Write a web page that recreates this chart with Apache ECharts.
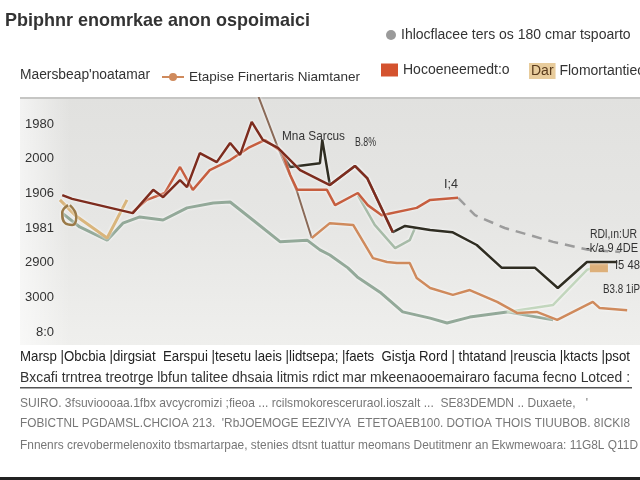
<!DOCTYPE html>
<html><head><meta charset="utf-8">
<script src="https://cdn.jsdelivr.net/npm/echarts@6/dist/echarts.min.js"></script>
<style>html,body{margin:0;padding:0;background:#fff}#c{width:640px;height:480px}</style>
</head><body><div id="c"></div>
<script>
// ---- data (x: period units 0..100, y: axis units 0..6) ----
const yTickLabels = ["8:0","3000","2900","1981","1906","2000","1980"];
const darkRed = [[0.9,3.95],[2.6,3.84],[13.0,3.43],[14.2,3.66],[16.5,4.10],[18.2,3.89],[21.1,4.38],[22.3,4.18],[24.5,5.16],[27.4,4.90],[29.7,5.45],[31.4,5.11],[33.4,6.06],[35.3,5.54],[37.9,5.31],[41.7,4.67],[46.8,4.24],[51.1,4.79],[53.2,4.44],[57.6,2.88]];
const orangeRed = [[13.0,3.46],[15.4,3.81],[18.5,4.01],[21.1,4.76],[23.3,4.10],[26.2,4.67],[29.7,4.96],[32.8,5.31],[35.7,5.54],[38.6,5.19],[40.0,4.53],[41.2,4.10],[46.3,4.10],[47.7,3.66],[51.6,4.01],[53.3,3.66],[55.7,3.37],[61.7,3.58],[64.0,3.81],[68.8,3.87]];
const dashedGray = [[68.8,3.87],[71.7,3.37],[76.8,3.00],[85.1,2.60],[91.1,2.37],[96.6,2.31]];
const blackLine = [[37.9,5.31],[40.0,4.76],[45.1,4.87],[45.5,5.54],[46.8,4.24],[51.1,4.79],[53.2,4.44],[57.6,2.88],[59.7,3.06],[64.0,2.94],[67.8,2.88],[72.0,2.51],[76.3,1.85],[82.0,1.85],[85.9,1.27],[90.9,2.02],[96.1,2.02]];
const taupe = [[34.0,7.04],[37.9,5.31],[41.2,4.04],[43.7,2.71]];
const orangeTan = [[43.7,2.71],[46.8,3.14],[50.8,3.09],[54.2,2.13],[56.6,2.02],[58.3,1.99],[60.5,1.99],[61.7,1.56],[64.0,1.27],[67.9,1.07],[70.8,1.21],[75.5,0.87],[78.9,0.55],[82.3,0.58],[85.8,0.35],[91.9,0.87],[93.1,0.69],[97.8,0.63]];
const grayGreen = [[0.9,3.43],[3.9,3.03],[8.6,2.65],[11.3,3.14],[14.2,3.32],[18.2,3.23],[22.3,3.58],[26.8,3.72],[29.7,3.75],[33.6,3.23],[38.3,2.60],[42.9,2.65],[45.1,2.37],[46.8,2.22],[49.9,1.85],[51.5,1.59],[55.4,1.15],[59.3,0.58],[64.0,0.40],[66.9,0.26],[70.8,0.43],[77.2,0.58],[85.1,0.35]];
const lightGreen = [[77.2,0.58],[85.1,0.78],[90.9,1.79],[93.1,1.93]];
const sage = [[51.6,3.95],[54.5,3.09],[58.0,2.42],[60.5,2.65],[61.4,3.00]];
const tan = [[0.5,3.81],[3.1,3.37],[8.6,2.71],[12.0,3.81]];
const loop = [[1.9,3.66],[0.9,3.43],[1.4,3.14],[2.6,3.09],[3.3,3.32],[2.2,3.66]];
const tanPatch = [[91.4,1.85],[94.5,1.85]];

const names = {
  grayGreen: "Ihlocflacee ters os 180 cmar tspoarto",
  orangeRed: "Hocoeneemedt:o",
  tan: "Dar Flomortantiecc",
  orangeTan: "Etapise Finertaris Niamtaner"
};
const titleText = 'Pbiphnr enomrkae anon ospoimaici';
const leftNote = "Maersbeap'noatamar";
const notes = ['Mna Sarcus','B.8%','I;4','RDl,ın:UR','-k/a 9 4DE','I5 48','B3.8 1iP'];
const tableRows = [
  'Marsp |Obcbia |dirgsiat  Earspui |tesetu laeis |lidtsepa; |faets  Gistja Rord | thtatand |reuscia |ktacts |psot',
  'Bxcafi trntrea treotrge lbfun talitee dhsaia litmis rdict mar mkeenaooemairaro facuma fecno Lotced :',
  "SUIRO. 3fsuvioooaa.1fbx avcycromizi ;fieoa ... rcilsmokoresceruraol.ioszalt ...  SE83DEMDN .. Duxaete,   '",
  "FOBICTNL PGDAMSL.CHCIOA 213.  'RbJOEMOGE EEZIVYA  ETETOAEB100. DOTIOA THOIS TIUUBOB. 8ICKI8",
  'Fnnenrs crevobermelenoxito tbsmartarpae, stenies dtsnt tuattur meomans Deutitmenr an Ekwmewoara: 11G8L Q11D'
];

const FONT = "'Liberation Sans',Arial,sans-serif";
const mctx = document.createElement('canvas').getContext('2d');
function fitText(text, font, x, y, w, fill, z) {
  mctx.font = font;
  const s = w / mctx.measureText(text).width;
  return {type:'text', x, y, scaleX:s, z:z||50, style:{text, font, fill, textVerticalAlign:'middle', verticalAlign:'middle'}};
}

const chart = echarts.init(document.getElementById('c'), null, {renderer:'canvas'});

function line(name, data, color, width, extra) {
  return Object.assign({
    type:'line', name, data, showSymbol:false, symbol:'none',
    lineStyle:{color, width, shadowColor:'rgba(255,255,255,0.9)', shadowBlur:3},
    itemStyle:{color}, emphasis:{disabled:true}, animation:false
  }, extra||{});
}

const option = {
  animation:false,
  backgroundColor:'#ffffff',
  legend:[
    {data:[{name:names.grayGreen, icon:'circle'}], left:381, top:23, itemWidth:10, itemHeight:10, itemGap:6,
      textStyle:{fontFamily:FONT, fontSize:14, color:'#333'}, selectedMode:false},
    {data:[{name:names.orangeRed, icon:'rect'}], left:376, top:58, itemWidth:17, itemHeight:13,
      textStyle:{fontFamily:FONT, fontSize:14, color:'#333'}, selectedMode:false},
    {data:[{name:names.tan, icon:'none'}], left:519, top:58, itemWidth:0, itemHeight:13, itemGap:0,
      formatter:(n)=>'{a|Dar} '+n.replace('Dar ',''),
      textStyle:{fontFamily:FONT, fontSize:14, color:'#333',
        rich:{a:{backgroundColor:'#e8cc9c', padding:[1,2], fontFamily:FONT, fontSize:14, color:'#5a3b1c'}}}, selectedMode:false},
    {data:[names.orangeTan], left:156, top:65, itemWidth:22, itemHeight:10, itemGap:4,
      textStyle:{fontFamily:FONT, fontSize:13.5, color:'#333'}, selectedMode:false}
  ],
  grid:{left:57, right:0, top:98, bottom:135, containLabel:false},
  xAxis:{type:'value', min:0, max:100, show:false},
  yAxis:{type:'value', min:-0.375, max:6.75,
    axisLine:{show:false}, axisTick:{show:false}, splitLine:{show:false},
    axisLabel:{customValues:[0,1,2,3,4,5,6], margin:3, fontFamily:FONT, fontSize:13, color:'#333',
      formatter:(v)=>{const i=Math.round(v); return yTickLabels[i]||'';}}
  },
  graphic:[
    {type:'rect', z:-10, shape:{x:20,y:98,width:620,height:247},
      style:{fill:new echarts.graphic.LinearGradient(0,0,0,1,[{offset:0,color:'#e1e1df'},{offset:0.5,color:'#e6e6e4'},{offset:1,color:'#efefed'}])}},
    {type:'rect', z:-9, shape:{x:20,y:98,width:50,height:247},
      style:{fill:new echarts.graphic.LinearGradient(0,0,1,0,[{offset:0,color:'rgba(255,255,255,0.6)'},{offset:1,color:'rgba(255,255,255,0)'}])}},
    {type:'rect', z:-8, shape:{x:20,y:97,width:620,height:2}, style:{fill:'#c6c6c4'}},
    fitText(titleText, "bold 19px "+FONT, 5, 21, 305, '#333'),
    fitText(leftNote, "14px "+FONT, 20, 75, 130, '#333'),
    fitText(notes[0], "13px "+FONT, 282, 136, 63, '#333', 100),
    fitText(notes[1], "12px "+FONT, 355, 143, 21, '#333', 100),
    fitText(notes[2], "12px "+FONT, 444, 185, 14, '#333', 100),
    fitText(notes[3], "12px "+FONT, 590, 235, 47, '#333', 100),
    fitText(notes[4], "12px "+FONT, 586, 249, 52, '#333', 100),
    fitText(notes[5], "12px "+FONT, 615, 266, 25, '#333', 100),
    fitText(notes[6], "12px "+FONT, 603, 290, 37, '#333', 100),
    fitText(tableRows[0], "15px "+FONT, 20, 357, 610, '#222'),
    fitText(tableRows[1], "15px "+FONT, 20, 378, 610, '#333'),
    {type:'rect', shape:{x:20,y:387,width:612,height:1.5}, style:{fill:'#555'}},
    fitText(tableRows[2], "13px "+FONT, 20, 403, 568, '#777'),
    fitText(tableRows[3], "13px "+FONT, 20, 423, 610, '#777'),
    fitText(tableRows[4], "13px "+FONT, 20, 445, 618, '#777'),
    {type:'rect', shape:{x:0,y:477,width:640,height:3}, style:{fill:'#222'}}
  ],
  series:[
    line(names.grayGreen, grayGreen, '#93a999', 3, {itemStyle:{color:'#9a9a9a'}}),
    line('light green', lightGreen, '#c2d6bd', 2.5),
    line('sage', sage, '#a7bba8', 2.5),
    line(names.tan, tan, '#d9b57c', 3),
    line('loop', loop, '#9a7a48', 2.5, {smooth:true}),
    line('tan patch', tanPatch, '#ddb07a', 9),
    line('taupe', taupe, '#8a6a58', 2),
    line(names.orangeTan, orangeTan, '#cf8a5c', 2.5),
    line('dashed', dashedGray, '#9c9c9c', 2.5, {lineStyle:{color:'#9c9c9c', width:2.5, type:[10,7]}}),
    line('black', blackLine, '#2f2d22', 2.5),
    line(names.orangeRed, orangeRed, '#c65e3f', 2.5, {itemStyle:{color:'#d4522e'}}),
    line('dark red', darkRed, '#7d2c1e', 2.5)
  ]
};
chart.setOption(option);
</script></body></html>
